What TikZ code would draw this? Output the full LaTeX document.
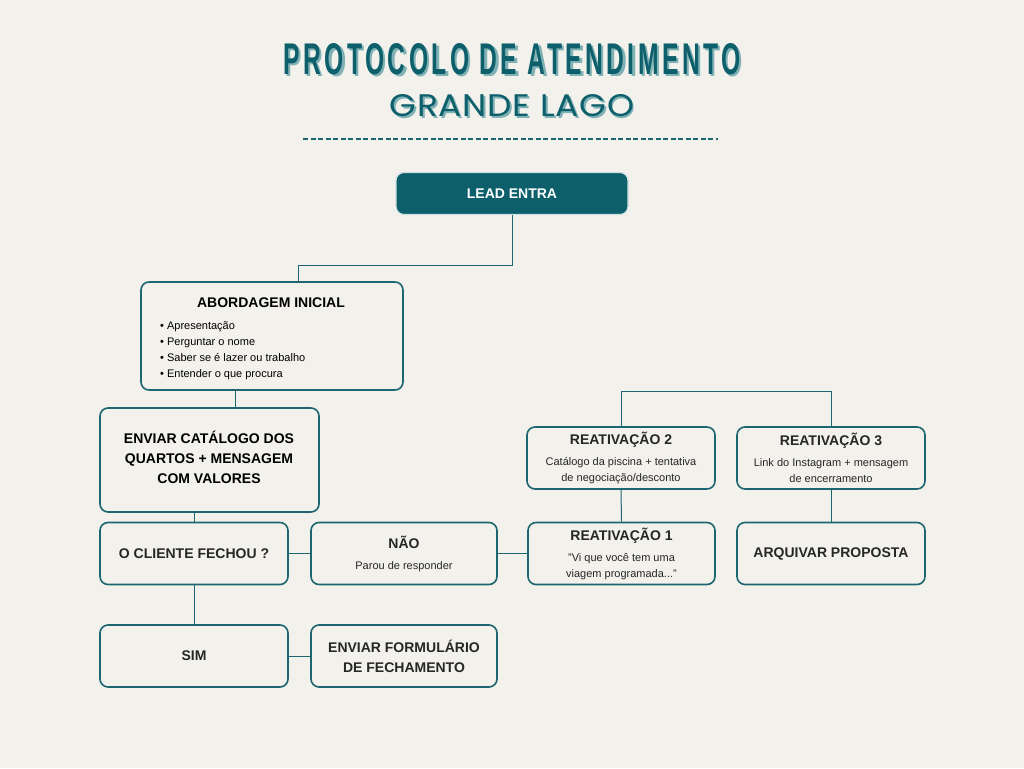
\documentclass[tikz,border=0pt]{standalone}
\usepackage{fontspec}
\setmainfont{Liberation Sans}
\newfontfamily\titlefont[LetterSpace=14]{Liberation Sans}
\newfontfamily\subtitlefont[LetterSpace=2]{Poppins}
\usetikzlibrary{positioning, calc}

\definecolor{paper}{HTML}{F3F1EB}
\definecolor{tealdark}{HTML}{0C5F6B}
\definecolor{tealline}{HTML}{1D6570}
\definecolor{tealshadow}{HTML}{7FB1B5}

\newcommand{\shadowtext}[4]{\makebox[0pt][l]{\hspace*{#3}\raisebox{-#3}{\color{tealshadow}\resizebox{#1}{#2}{#4}}}\resizebox{#1}{#2}{#4}}

\begin{document}
\begin{tikzpicture} [
    x=1pt, y=-1pt,
    box/.style={rectangle, rounded corners=8pt, draw=tealline, line width=1.6pt, fill=paper, inner sep=0pt, minimum width=188pt, minimum height=62pt, text=black!85, align=center},
    header/.style={box, fill=tealdark, draw=white!80!tealdark, line width=1.2pt, minimum width=232pt, minimum height=42pt, text=white, font=\fontsize{14}{17}\selectfont\bfseries},
    head/.style={font=\fontsize{14}{20}\selectfont\bfseries},
    small/.style={font=\fontsize{11}{16}\selectfont},
    link/.style={draw=tealline, line width=1pt}
]

% Background and frame
\fill[paper] (0,0) rectangle (1024,768);
\useasboundingbox (0,0) rectangle (1024,768);

% Title
\node[inner sep=0pt, text=tealdark] (title) at (512,60) {\shadowtext{457pt}{31pt}{2.5pt}{\titlefont\bfseries PROTOCOLO DE ATENDIMENTO}};
\node[inner sep=0pt, text=tealdark] (subtitle) at (512,106.5) {\shadowtext{244pt}{22pt}{2pt}{\subtitlefont GRANDE LAGO}};
\draw[tealline, line width=1.5pt, dash pattern=on 5pt off 2.5pt] (303,139) -- (718,139);

% Nodes
\node[header] (lead) at (512,193.5) {LEAD ENTRA};
\node[box, minimum width=262pt, minimum height=108pt] (abordagem) at (272,336) {};
\node[head] (abordagem_title) at (271,303) {ABORDAGEM INICIAL};
\node[small, align=left, anchor=north west, inner sep=0pt] (abordagem_list) at (160,321) {• Apresentação\\• Perguntar o nome\\• Saber se é lazer ou trabalho\\• Entender o que procura};
\node[box, head, minimum width=219pt, minimum height=104pt] (catalogo) at (209.5,460) {};
\node[head, align=center] (catalogo_text) at (209,457) {ENVIAR CATÁLOGO DOS\\QUARTOS + MENSAGEM\\COM VALORES};
\node[box, head] (cliente) at (194,553.5) {O CLIENTE FECHOU ?};
\node[box, small, minimum width=186pt] (nao) at (404,553.5) {{\fontsize{14}{16}\selectfont\bfseries NÃO}\\[5pt]Parou de responder};
\node[box, head] (sim) at (194,656) {SIM};
\node[box, head, minimum width=186pt] (formulario) at (404,656) {ENVIAR FORMULÁRIO\\DE FECHAMENTO};
\node[box, small, minimum width=187pt] (reat_1) at (621.5,553.5) {{\fontsize{14}{16}\selectfont\bfseries REATIVAÇÃO 1}\\[5pt]"Vi que você tem uma\\viagem programada..."};
\node[box, small] (reat_2) at (621,458) {{\fontsize{14}{16}\selectfont\bfseries REATIVAÇÃO 2}\\[5pt]Catálogo da piscina + tentativa\\de negociação/desconto};
\node[box, small] (reat_3) at (831,458) {{\fontsize{14}{16}\selectfont\bfseries REATIVAÇÃO 3}\\[5pt]Link do Instagram + mensagem\\de encerramento};
\node[box, head] (arquivar) at (831,553.5) {ARQUIVAR PROPOSTA};

% Connectors
\draw[link] (lead.south) -- ++(0,50) -| (298,0 |- abordagem.north);
\draw[link] (235,0 |- abordagem.south) -- (235,0 |- catalogo.north);
\draw[link] (cliente.north |- catalogo.south) -- (cliente.north);
\draw[link] (cliente.east) -- (nao.west);
\draw[link] (nao.east) -- (reat_1.west);
\draw[link] (reat_1.north) -- (reat_2.south);
\draw[link] (reat_2.north) -- ++(0,-35) -| (reat_3.north);
\draw[link] (reat_3.south) -- (arquivar.north);
\draw[link] (cliente.south) -- (sim.north);
\draw[link] (sim.east) -- (formulario.west);

\end{tikzpicture}
\end{document}
